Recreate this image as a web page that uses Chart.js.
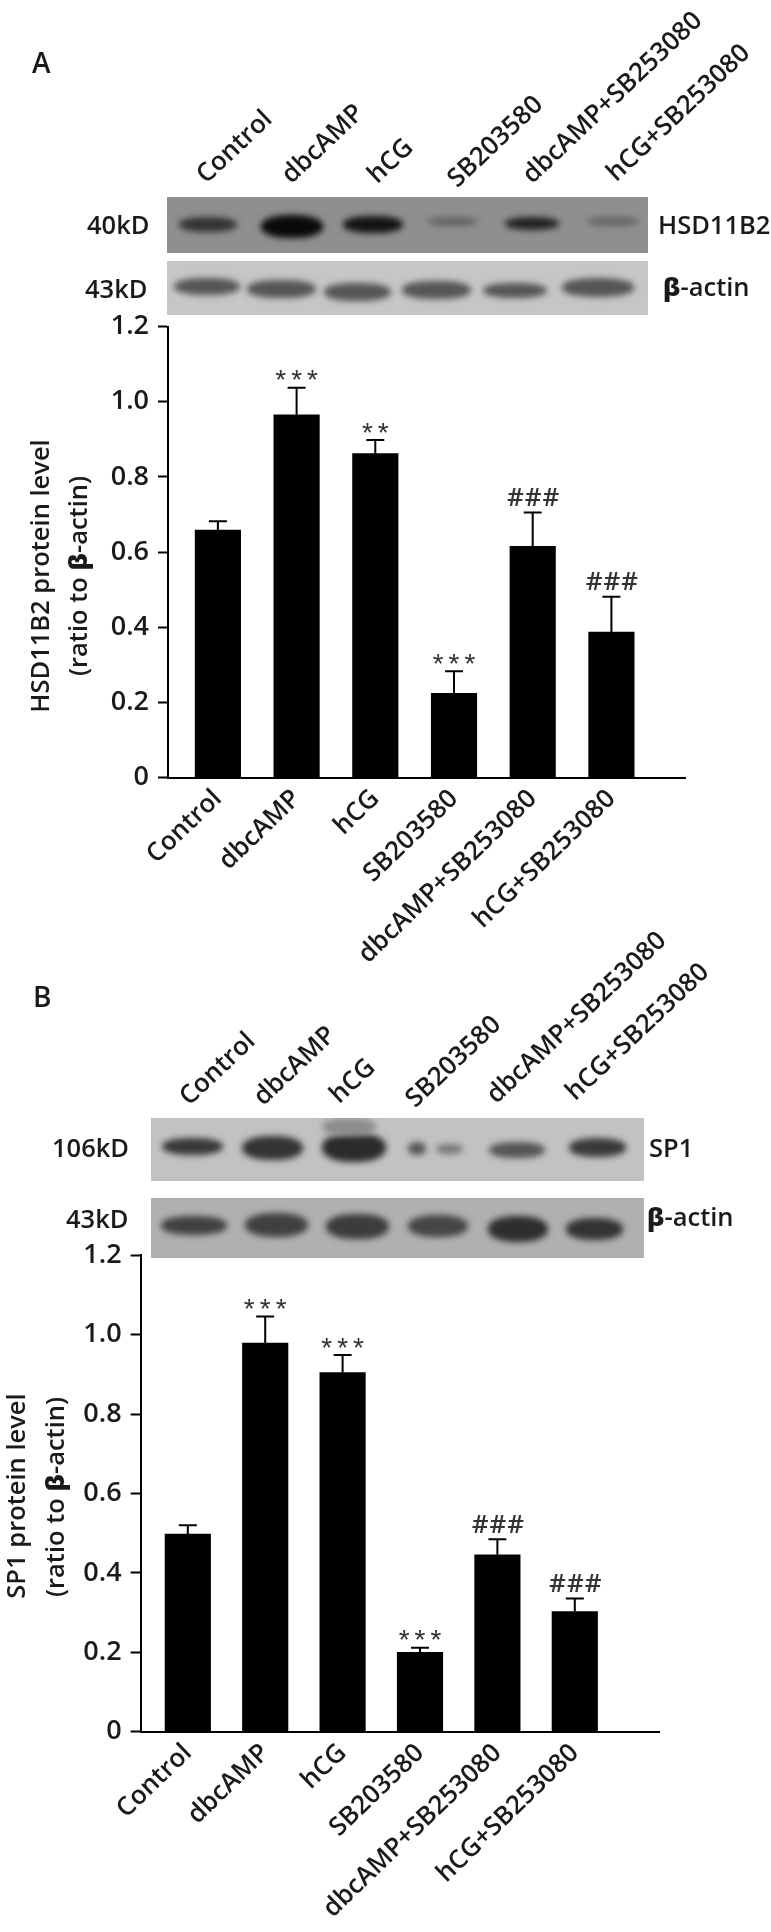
<!DOCTYPE html>
<html>
<head>
<meta charset="utf-8">
<script src="https://cdn.jsdelivr.net/npm/chart.js@4"></script>
<style>
  html, body { margin: 0; background: #fff; }
  #page { position: relative; width: 771px; height: 1932px; overflow: hidden; font-family: "Open Sans", sans-serif; color: #1a1a1a; filter: blur(0.5px); }
  canvas { position: absolute; left: 0; }
  .t { position: absolute; white-space: nowrap; line-height: 1; }
  .lane { font-size: 25.8px; font-weight: 600; transform-origin: 0 50%; transform: translateY(-50%) rotate(-43.5deg); }
  .side { font-size: 25.5px; font-weight: 600; transform: translateY(-50%); }
  .ytitle { font-size: 25.5px; font-weight: 600; transform: translate(-50%, -50%) rotate(-90deg); }
  .panel { font-size: 28px; font-weight: 600; }
  .blot { position: absolute; overflow: hidden; }
  .blot i { position: absolute; border-radius: 45%; filter: blur(3px); }
</style>
</head>
<body>
<div id="page">
  <div class="t panel" style="left:32px;top:48px">A</div>
  <div class="t panel" style="left:33px;top:982px">B</div>

  <div class="t side" style="left:87px;top:225px">40kD</div>
  <div class="t side" style="left:85px;top:289px">43kD</div>
  <div class="t side" style="left:658px;top:225px">HSD11B2</div>
  <div class="t side" style="left:663px;top:287px"><b>β</b>-actin</div>
  <div class="t side" style="left:52px;top:1148px">106kD</div>
  <div class="t side" style="left:66px;top:1219px">43kD</div>
  <div class="t side" style="left:649px;top:1148px">SP1</div>
  <div class="t side" style="left:647px;top:1217px"><b>β</b>-actin</div>

  <div class="t ytitle" style="left:40px;top:576px">HSD11B2 protein level</div>
  <div class="t ytitle" style="left:78px;top:576px">(ratio to <b>β</b>-actin)</div>
  <div class="t ytitle" style="left:16px;top:1496px">SP1 protein level</div>
  <div class="t ytitle" style="left:55px;top:1497px">(ratio to <b>β</b>-actin)</div>

  <canvas id="chartA" width="771" height="660" style="top:310px"></canvas>
  <canvas id="chartB" width="771" height="692" style="top:1240px"></canvas>
</div>
<script>
const lanes = ['Control', 'dbcAMP', 'hCG', 'SB203580', 'dbcAMP+SB253080', 'hCG+SB253080'];
const yTicks = [0, 0.2, 0.4, 0.6, 0.8, 1.0, 1.2];

const hsdMeans = [0.658, 0.965, 0.862, 0.224, 0.615, 0.387];
const hsdErrors = [0.024, 0.072, 0.036, 0.059, 0.090, 0.094];
const hsdMarks = ['', '***', '**', '***', '###', '###'];

const sp1Means = [0.498, 0.979, 0.905, 0.200, 0.446, 0.303];
const sp1Errors = [0.022, 0.067, 0.044, 0.012, 0.039, 0.033];
const sp1Marks = ['', '***', '***', '***', '###', '###'];

// category scale whose lanes don't fill the whole axis (axis runs on past the last bar)
class LaneScale extends Chart.CategoryScale {
  configure() {
    super.configure();
    this._startValue = this.options.laneStart;
    this._valueRange = this.options.laneRange;
  }
}
LaneScale.id = 'lanes';
LaneScale.defaults = Chart.CategoryScale.defaults;
Chart.register(LaneScale);

const errorBars = {
  id: 'errorBars',
  afterDatasetsDraw(chart, args, opts) {
    const { ctx, scales: { x, y } } = chart;
    ctx.save();
    ctx.strokeStyle = '#000';
    ctx.lineWidth = 2;
    opts.means.forEach((m, i) => {
      const px = x.getPixelForValue(i);
      const top = y.getPixelForValue(m + opts.errors[i]);
      ctx.beginPath();
      ctx.moveTo(px, y.getPixelForValue(m));
      ctx.lineTo(px, top);
      ctx.moveTo(px - 9, top);
      ctx.lineTo(px + 9, top);
      ctx.stroke();

      const mark = opts.marks[i];
      if (!mark) return;
      const hash = mark[0] === '#';
      ctx.fillStyle = '#333';
      ctx.textAlign = 'center';
      ctx.textBaseline = 'middle';
      ctx.font = hash ? '600 26px "Open Sans"' : '400 28px "Liberation Sans"';
      ctx.letterSpacing = hash ? '1px' : '5px';
      ctx.fillText(mark, px + (hash ? 1 : 2.5), top - (hash ? 14 : 6));
      ctx.letterSpacing = '0px';
    });
    ctx.restore();
  }
};

function drawChart(id, means, errors, marks, geom) {
  return new Chart(document.getElementById(id), {
    type: 'bar',
    data: {
      labels: lanes,
      datasets: [{ data: means, backgroundColor: '#000', barThickness: 45.5 }]
    },
    plugins: [errorBars],
    options: {
      responsive: false,
      animation: false,
      layout: { padding: { top: geom.top, right: geom.right, left: 0, bottom: 0 } },
      plugins: {
        legend: { display: false },
        tooltip: { enabled: false },
        errorBars: { means, errors, marks }
      },
      scales: {
        x: {
          type: 'lanes',
          laneStart: geom.laneStart,
          laneRange: geom.laneRange,
          afterFit: s => { s.height = geom.xHeight; s.paddingLeft = 0; s.paddingRight = 0; },
          grid: { display: false, drawTicks: false },
          border: { color: '#000', width: 2 },
          ticks: {
            minRotation: 44, maxRotation: 44, autoSkip: false, padding: 6,
            color: '#1a1a1a', font: { family: 'Open Sans', size: 25.8, weight: '600' }
          }
        },
        y: {
          min: 0,
          max: 1.2,
          afterFit: s => { s.width = geom.yWidth; s.paddingTop = 0; s.paddingBottom = 0; },
          afterBuildTicks: s => { s.ticks = yTicks.map(v => ({ value: v })); },
          grid: { drawOnChartArea: false, tickLength: 10, tickWidth: 2, tickColor: '#000' },
          border: { color: '#000', width: 2 },
          ticks: {
            padding: 9,
            color: '#1a1a1a',
            font: { family: 'Open Sans', size: 27, weight: '600' },
            callback: v => v === 0 ? '0' : v.toFixed(1)
          }
        }
      }
    }
  });
}

drawChart('chartA', hsdMeans, hsdErrors, hsdMarks,
  { top: 16.5, right: 86, yWidth: 168, xHeight: 192.5, laneStart: -0.634, laneRange: 6.569 });
drawChart('chartB', sp1Means, sp1Errors, sp1Marks,
  { top: 15.4, right: 112, yWidth: 140.6, xHeight: 200.2, laneStart: -0.61, laneRange: 6.698 });

// lane labels above the blots
const page = document.getElementById('page');
function laneLabels(starts) {
  starts.forEach(([x, y], i) => {
    const el = document.createElement('div');
    el.className = 't lane';
    el.textContent = lanes[i];
    el.style.left = x + 'px';
    el.style.top = y + 'px';
    page.appendChild(el);
  });
}
laneLabels([[200, 178], [285, 178], [371, 178], [451, 182], [526, 178], [610, 176]]);
laneLabels([[183, 1100], [257, 1100], [333, 1098], [409, 1102], [490, 1098], [569, 1095]]);

// blot panels: grey strip with blurred bands
function blot(x0, y0, x1, y1, bg, bands) {
  const el = document.createElement('div');
  el.className = 'blot';
  el.style.cssText = `left:${x0}px;top:${y0}px;width:${x1 - x0}px;height:${y1 - y0}px;background:${bg}`;
  bands.forEach(([a, b, t, u, c]) => {
    const s = document.createElement('i');
    s.style.cssText = `left:${a - x0}px;top:${t - y0}px;width:${b - a}px;height:${u - t}px;background:${c}`;
    el.appendChild(s);
  });
  page.appendChild(el);
}
blot(167, 197, 648, 253, '#8f8f8f', [
  [179, 237, 217, 232, '#333'], [261, 323, 215, 238, '#0a0a0a'], [343, 403, 216, 233, '#141414'],
  [428, 478, 217, 226, '#636363'], [505, 559, 217, 230, '#222'], [587, 639, 217, 226, '#666']
]);
blot(167, 261, 648, 315, '#c6c6c6', [
  [174, 240, 278, 295, '#555'], [247, 316, 280, 298, '#555'], [324, 391, 283, 301, '#555'],
  [402, 471, 281, 299, '#555'], [483, 547, 283, 298, '#555'], [562, 634, 278, 297, '#555']
]);
blot(151, 1118, 644, 1181, '#c2c2c2', [
  [162, 223, 1138, 1155, '#383838'], [242, 303, 1136, 1160, '#333'], [322, 386, 1133, 1162, '#2b2b2b'],
  [322, 376, 1118, 1136, '#8c8c8c'], [408, 426, 1142, 1155, '#555'], [436, 463, 1144, 1154, '#777'],
  [489, 545, 1142, 1158, '#555'], [569, 626, 1138, 1157, '#3a3a3a']
]);
blot(151, 1198, 644, 1258, '#b0b0b0', [
  [161, 227, 1216, 1235, '#404040'], [245, 308, 1213, 1237, '#404040'], [326, 389, 1214, 1239, '#3c3c3c'],
  [408, 468, 1215, 1237, '#454545'], [488, 548, 1216, 1242, '#2e2e2e'], [566, 623, 1218, 1240, '#333']
]);
</script>
</body>
</html>
